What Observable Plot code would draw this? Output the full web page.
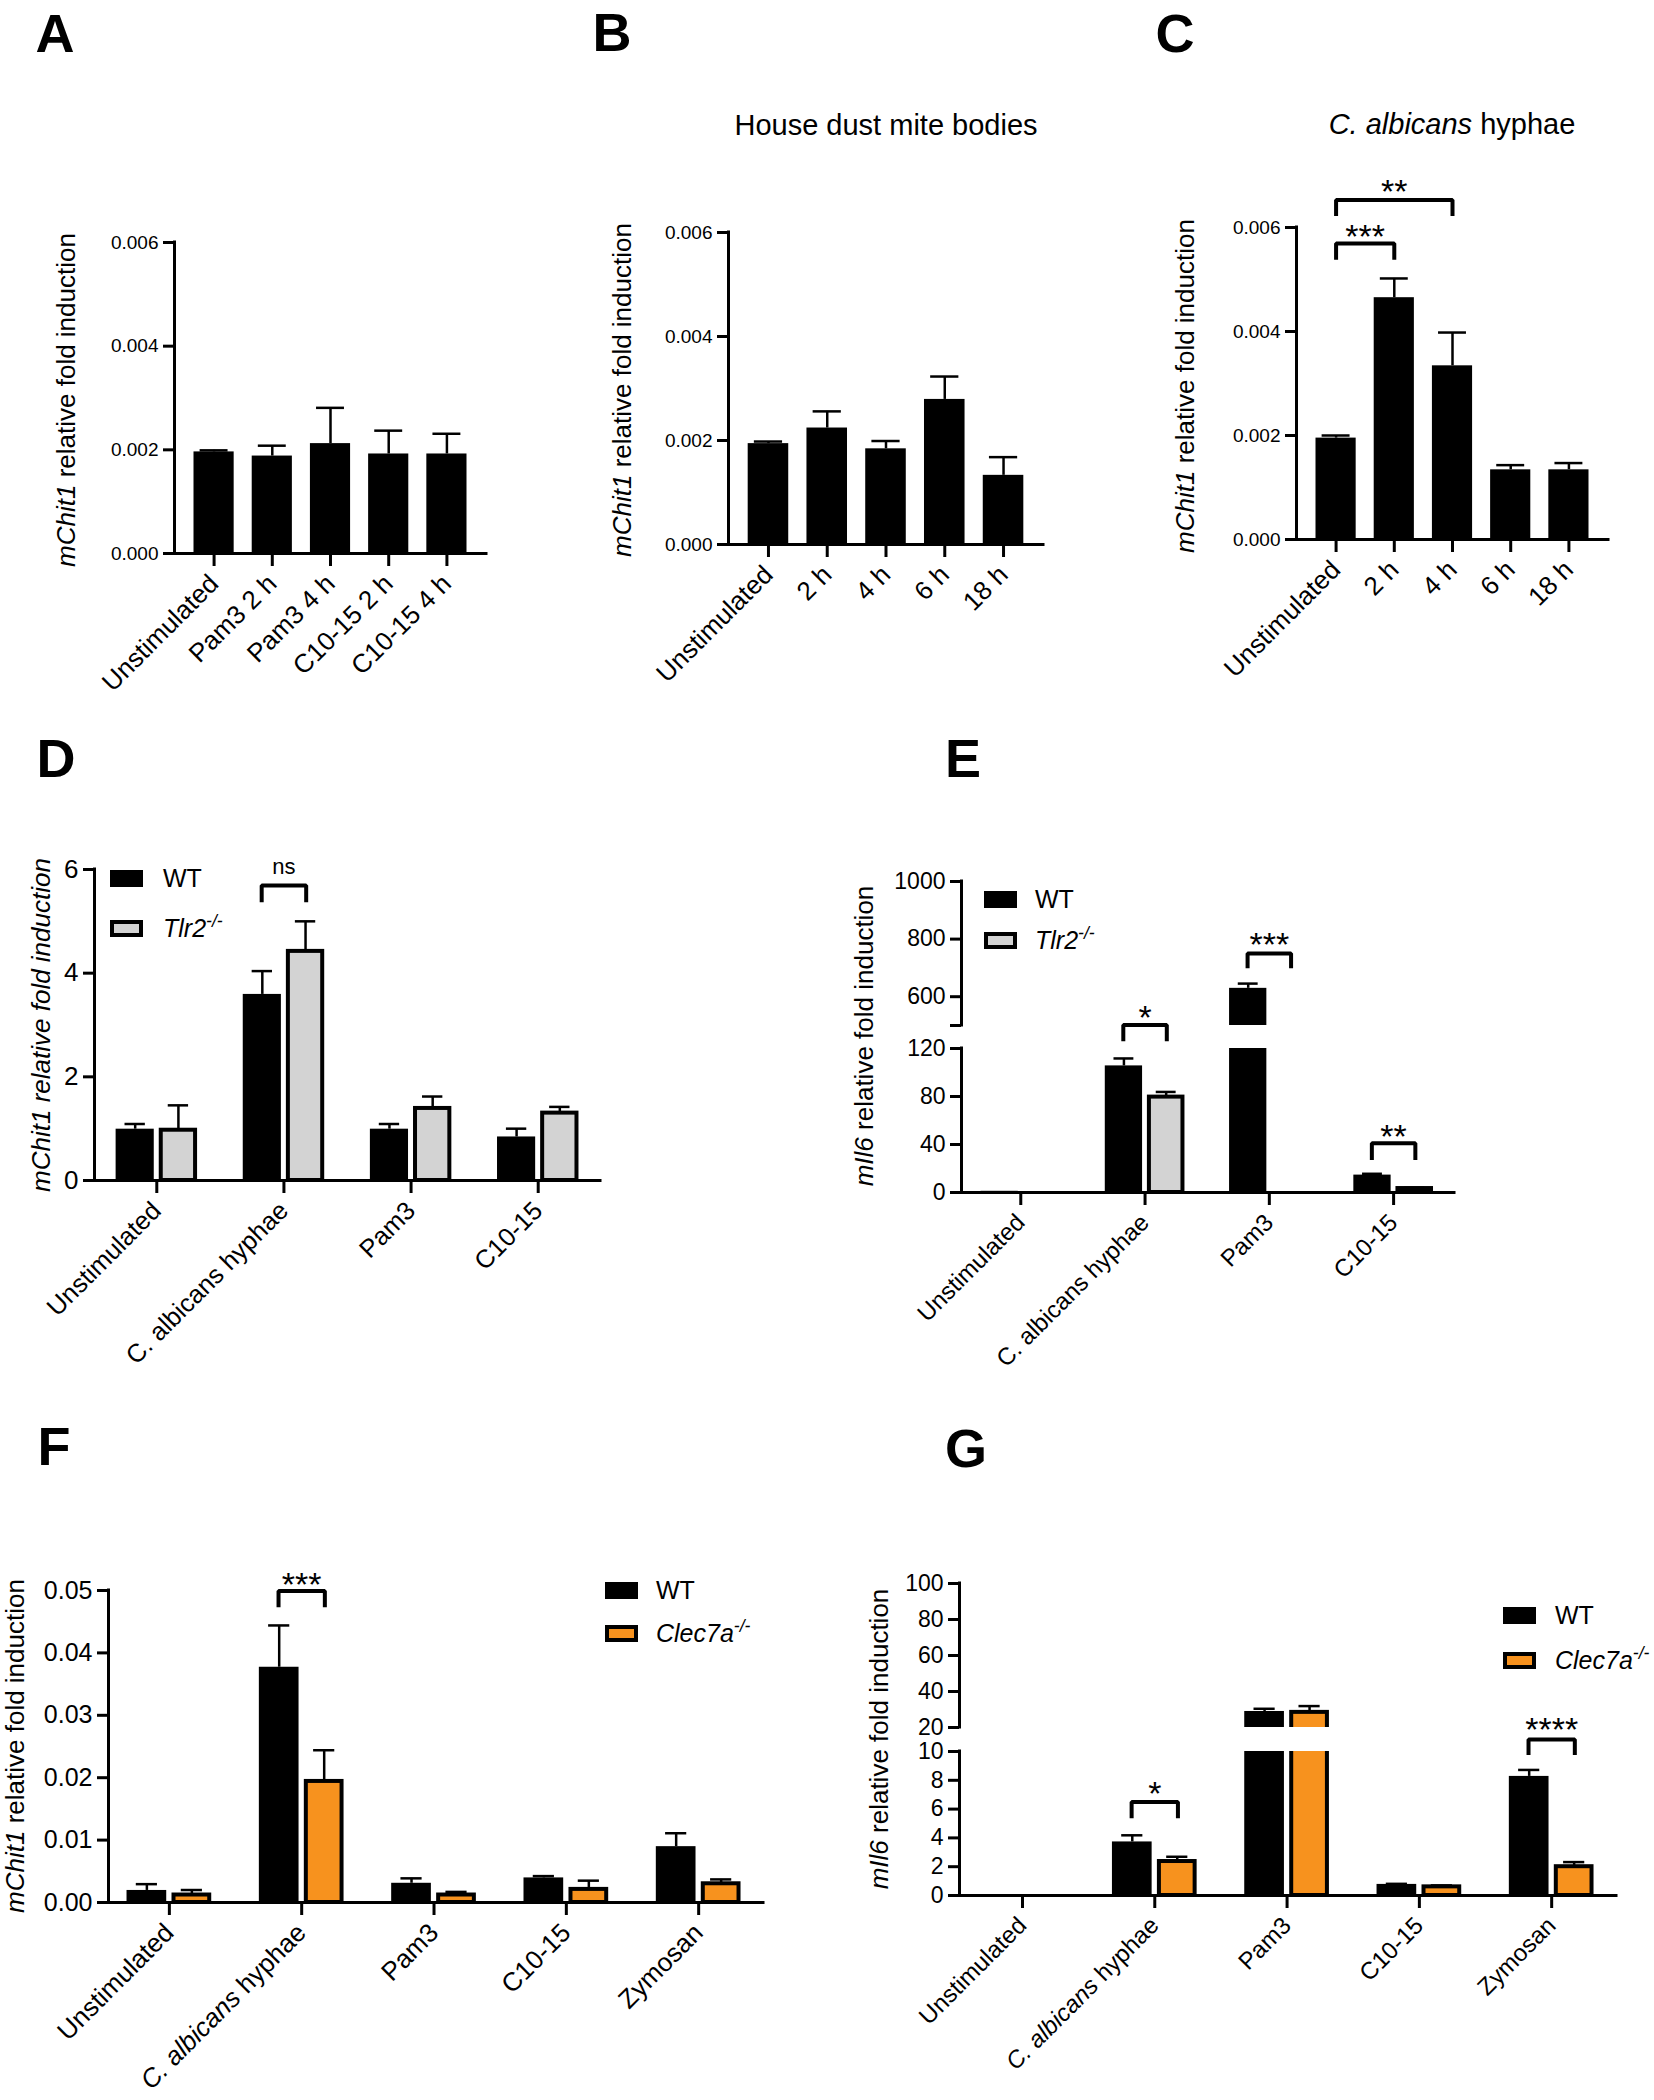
<!DOCTYPE html>
<html>
<head>
<meta charset="utf-8">
<script src="https://cdn.jsdelivr.net/npm/d3@7"></script>
<script src="https://cdn.jsdelivr.net/npm/@observablehq/plot@0.6"></script>
<style>
  html, body { margin: 0; padding: 0; background: #fff; }
  #fig { position: relative; width: 1654px; height: 2100px; overflow: hidden; background: #fff;
         font-family: "Liberation Sans", Arial, Helvetica, sans-serif; color: #000; }
  .t { position: absolute; white-space: nowrap; line-height: 1; transform: translate(-50%, -50%); }
  .rot { transform: translate(-50%, -50%) rotate(-90deg); }
  .letter { font-weight: bold; font-size: 54px; }
  .title { font-size: 29px; }
  .ylab { font-size: 26px; }
  .leg { position: absolute; white-space: nowrap; line-height: 1; transform: translateY(-50%); font-size: 25px; }
  .sw { position: absolute; box-sizing: border-box; }
  sup { font-size: 0.7em; vertical-align: 0.55em; line-height: 0; }
</style>
</head>
<body>
<div id="fig"></div>
<script>
// ---------------- DATA ----------------
// Panel A
const catsA = ["Unstimulated", "Pam3 2 h", "Pam3 4 h", "C10-15 2 h", "C10-15 4 h"];
const meanA = [0.00196, 0.00188, 0.00212, 0.00192, 0.00192];
const errA  = [0.00003, 0.00020, 0.00069, 0.00045, 0.00039];
// Panels B and C
const catsBC = ["Unstimulated", "2 h", "4 h", "6 h", "18 h"];
const meanB = [0.00194, 0.00224, 0.00184, 0.00279, 0.00133];
const errB  = [0.00004, 0.00032, 0.00015, 0.00044, 0.00035];
const meanC = [0.00195, 0.00465, 0.00334, 0.00134, 0.00134];
const errC  = [0.00005, 0.00037, 0.00064, 0.00009, 0.00013];
const sigC = [
  {from: 0, to: 1, y: 0.00569, leg: 0.00538, ty: 0.00599, label: "***"},
  {from: 0, to: 2, y: 0.00653, leg: 0.00622, ty: 0.00685, label: "**"}
];
// Panel D
const catsD = ["Unstimulated", "C. albicans hyphae", "Pam3", "C10-15"];
const wtD    = [0.99, 3.59, 0.99, 0.84];
const wtErrD = [0.10, 0.45, 0.10, 0.16];
const koD    = [0.97, 4.42, 1.39, 1.30];
const koErrD = [0.48, 0.58, 0.23, 0.12];
const sigD = [{group: 1, y: 5.69, leg: 5.37, ty: 6.05, label: "ns"}];
// Panel E
const catsE = ["Unstimulated", "C. albicans hyphae", "Pam3", "C10-15"];
const wtE    = [1.0, 105.5, 629, 14.5];
const wtErrE = [0, 6.2, 16.5, 1.1];
const koE    = [0, 79.5, 0, 3.3];
const koErrE = [0, 4.3, 0, 0.6];
const sigE = [
  {group: 1, y: 139.6, leg: 126, ty: 153, label: "*"},
  {group: 2, y: 750, leg: 699, ty: 809, label: "***"},
  {group: 3, y: 41, leg: 27, ty: 53.6, label: "**"}
];
// Panel F
const catsF = ["Unstimulated", "C. albicans hyphae", "Pam3", "C10-15", "Zymosan"];
const wtF    = [0.00193, 0.0377, 0.00308, 0.00394, 0.00895];
const wtErrF = [0.00101, 0.0067, 0.00079, 0.00029, 0.00215];
const koF    = [0.0012, 0.0194, 0.0012, 0.0021, 0.0030];
const koErrF = [0.0008, 0.0050, 0.0005, 0.0014, 0.0007];
const sigF = [{group: 1, y: 0.0499, leg: 0.0473, ty: 0.0523, label: "***"}];
// Panel G
const catsG = ["Unstimulated", "C. albicans hyphae", "Pam3", "C10-15", "Zymosan"];
const wtG    = [0.0, 3.72, 28.9, 0.77, 8.27];
const wtErrG = [0, 0.46, 1.5, 0.04, 0.45];
const koG    = [0.0, 2.36, 28.4, 0.60, 2.00];
const koErrG = [0, 0.33, 3.5, 0.10, 0.32];
const sigG = [
  {group: 1, y: 6.5, leg: 5.36, ty: 7.7, label: "*"},
  {group: 4, y: 10.84, leg: 9.75, ty: 12.1, label: "****"}
];

// ---------------- HELPERS ----------------
const FONT = '"Liberation Sans", Arial, Helvetica, sans-serif';
const ORANGE = "#f7921e";
const GREY = "#d3d3d3";
const fig = document.getElementById("fig");
const SVGNS = "http://www.w3.org/2000/svg";

function single(vals, errs) { return vals.map((v, i) => ({x: i, v, e: errs[i]})); }
function grouped(vals, errs, off) { return vals.map((v, i) => ({x: i + off, v, e: errs[i]})); }
function spanBr(list) { return list.map(b => ({...b, x1: b.from, x2: b.to})); }
function groupBr(list, half) { return list.map(b => ({...b, x1: b.group - half, x2: b.group + half})); }

function italicize(svg, needle, italicPart, rest) {
  svg.querySelectorAll("text").forEach(t => {
    if (t.textContent === needle) {
      t.textContent = "";
      const a = document.createElementNS(SVGNS, "tspan");
      a.setAttribute("font-style", "italic");
      a.textContent = italicPart;
      const b = document.createElementNS(SVGNS, "tspan");
      b.textContent = rest;
      t.appendChild(a); t.appendChild(b);
    }
  });
}

function panel(c) {
  const ml = 120, mr = 30, mt = 90, mb = c.cats ? 330 : 20;
  const W = c.x1 - c.x0 + ml + mr;
  const H = c.yBot - c.yTop + mt + mb;
  const ylo = c.yDomain[0];
  const clip = !!c.clip;
  const marks = [];
  for (const s of c.series) {
    const o = {x1: d => d.x - s.hw, x2: d => d.x + s.hw, y1: 0, y2: "v", fill: s.fill, clip};
    if (s.stroke) { o.stroke = s.stroke; o.strokeWidth = s.sw; }
    marks.push(Plot.rect(s.data.filter(d => d.v > 0), o));
  }
  for (const s of c.series) {
    const ed = s.data.filter(d => d.e > 0);
    marks.push(Plot.ruleX(ed, {x: "x", y1: "v", y2: d => d.v + d.e, strokeWidth: 2.5, clip}));
    marks.push(Plot.ruleY(ed, {y: d => d.v + d.e, x1: d => d.x - c.cap, x2: d => d.x + c.cap, strokeWidth: 2.5, clip}));
  }
  marks.push(Plot.axisY({ticks: c.yTicks, tickFormat: c.yFmt, tickSize: 11, tickPadding: 5,
    strokeWidth: 3, fontSize: c.yFont, label: null}));
  marks.push(Plot.ruleX([c.xDomain[0]], {strokeWidth: 3, strokeLinecap: "square"}));
  if (c.cats) {
    marks.push(Plot.ruleY([ylo], {strokeWidth: 3, strokeLinecap: "square"}));
    marks.push(Plot.axisX({ticks: c.cats.map((_, i) => i), tickFormat: i => c.cats[i], tickRotate: -45,
      tickSize: 13, tickPadding: 13, strokeWidth: 3, fontSize: c.xFont, label: null}));
  }
  if (c.brackets && c.brackets.length) {
    const pts = c.brackets.flatMap((b, k) => [
      {k, x: b.x1, y: b.leg}, {k, x: b.x1, y: b.y}, {k, x: b.x2, y: b.y}, {k, x: b.x2, y: b.leg}]);
    marks.push(Plot.line(pts, {x: "x", y: "y", z: "k", strokeWidth: 4, strokeLinejoin: "miter", strokeLinecap: "butt"}));
    const stars = c.brackets.filter(b => b.label.includes("*"));
    const other = c.brackets.filter(b => !b.label.includes("*"));
    marks.push(Plot.text(stars, {x: b => (b.x1 + b.x2) / 2, y: "ty", text: "label", fontSize: 34, dy: 9}));
    marks.push(Plot.text(other, {x: b => (b.x1 + b.x2) / 2, y: "ty", text: "label", fontSize: 22}));
  }
  const svg = Plot.plot({
    width: W, height: H, marginLeft: ml, marginRight: mr, marginTop: mt, marginBottom: mb,
    x: {type: "linear", domain: c.xDomain, axis: null},
    y: {type: "linear", domain: c.yDomain, axis: null},
    style: {fontFamily: FONT, color: "black", background: "transparent", overflow: "visible"},
    marks
  });
  if (c.italicHyphae) italicize(svg, "C. albicans hyphae", "C. albicans", " hyphae");
  svg.style.position = "absolute";
  svg.style.left = (c.x0 - ml) + "px";
  svg.style.top = (c.yTop - mt) + "px";
  fig.appendChild(svg);
}

function addText(html, cx, cy, cls) {
  const d = document.createElement("div");
  d.className = "t " + cls;
  d.innerHTML = html;
  d.style.left = cx + "px";
  d.style.top = cy + "px";
  fig.appendChild(d);
}

function addLegend(sx, tx, items) {
  for (const it of items) {
    const s = document.createElement("div");
    s.className = "sw";
    s.style.left = sx + "px";
    s.style.top = (it.cy - 8.5) + "px";
    s.style.width = "33px";
    s.style.height = "17px";
    s.style.background = it.fill;
    if (it.border) s.style.border = "4px solid #000";
    fig.appendChild(s);
    const t = document.createElement("div");
    t.className = "leg";
    t.style.left = tx + "px";
    t.style.top = it.cy + "px";
    t.innerHTML = it.html;
    fig.appendChild(t);
  }
}

// ---------------- PANELS ----------------
const fmt3 = d3.format(".3f");
const fmt2 = d3.format(".2f");
const plain = d => `${d}`;
const HW1 = 0.345, CAP1 = 0.24;
const OFF = 0.17, HWW = 0.15, HWK = 0.135, CAP2 = 0.08, BR = 0.175;

// A
panel({x0: 174, x1: 486, yTop: 242, yBot: 553, yDomain: [0, 0.006], yTicks: [0, 0.002, 0.004, 0.006],
  yFmt: fmt3, yFont: 19, xDomain: [-0.68, 4.68], cats: catsA, xFont: 26, cap: CAP1,
  series: [{data: single(meanA, errA), hw: HW1, fill: "black"}]});
// B
panel({x0: 728, x1: 1043, yTop: 232, yBot: 544, yDomain: [0, 0.006], yTicks: [0, 0.002, 0.004, 0.006],
  yFmt: fmt3, yFont: 19, xDomain: [-0.68, 4.68], cats: catsBC, xFont: 26, cap: CAP1,
  series: [{data: single(meanB, errB), hw: HW1, fill: "black"}]});
// C
panel({x0: 1296, x1: 1608, yTop: 227, yBot: 539, yDomain: [0, 0.006], yTicks: [0, 0.002, 0.004, 0.006],
  yFmt: fmt3, yFont: 19, xDomain: [-0.68, 4.68], cats: catsBC, xFont: 26, cap: CAP1,
  series: [{data: single(meanC, errC), hw: HW1, fill: "black"}], brackets: spanBr(sigC)});
// D
panel({x0: 94, x1: 600, yTop: 869, yBot: 1180, yDomain: [0, 6], yTicks: [0, 2, 4, 6],
  yFmt: plain, yFont: 26, xDomain: [-0.49, 3.49], cats: catsD, xFont: 25.5, cap: CAP2,
  series: [{data: grouped(wtD, wtErrD, -OFF), hw: HWW, fill: "black"},
           {data: grouped(koD, koErrD, OFF), hw: HWK, fill: GREY, stroke: "black", sw: 4}],
  brackets: groupBr(sigD, BR)});
// E (broken axis: top + bottom segments)
const eTopMin = 500;
panel({x0: 961, x1: 1454, yTop: 881, yBot: 1025, yDomain: [eTopMin, 1000], yTicks: [500, 600, 800, 1000],
  yFmt: d => d === eTopMin ? "" : `${d}`, yFont: 23, xDomain: [-0.477, 3.49], clip: true, cap: CAP2,
  series: [{data: grouped(wtE, wtErrE, -OFF), hw: HWW, fill: "black"},
           {data: grouped(koE, koErrE, OFF), hw: HWK, fill: GREY, stroke: "black", sw: 4}],
  brackets: groupBr(sigE.filter(b => b.y >= eTopMin), BR)});
panel({x0: 961, x1: 1454, yTop: 1048, yBot: 1192, yDomain: [0, 120], yTicks: [0, 40, 80, 120],
  yFmt: plain, yFont: 23, xDomain: [-0.477, 3.49], clip: true, cats: catsE, xFont: 24, cap: CAP2,
  series: [{data: grouped(wtE, wtErrE, -OFF), hw: HWW, fill: "black"},
           {data: grouped(koE, koErrE, OFF), hw: HWK, fill: GREY, stroke: "black", sw: 4}],
  brackets: groupBr(sigE.filter(b => b.y < eTopMin), BR)});
// F
panel({x0: 108, x1: 763, yTop: 1590, yBot: 1902, yDomain: [0, 0.05], yTicks: [0, 0.01, 0.02, 0.03, 0.04, 0.05],
  yFmt: fmt2, yFont: 25, xDomain: [-0.46, 4.49], cats: catsF, xFont: 26, cap: CAP2, italicHyphae: true,
  series: [{data: grouped(wtF, wtErrF, -OFF), hw: HWW, fill: "black"},
           {data: grouped(koF, koErrF, OFF), hw: HWK, fill: ORANGE, stroke: "black", sw: 4}],
  brackets: groupBr(sigF, BR)});
// G (broken axis)
const gTopMin = 20;
panel({x0: 959, x1: 1616, yTop: 1583, yBot: 1727, yDomain: [gTopMin, 100], yTicks: [20, 40, 60, 80, 100],
  yFmt: plain, yFont: 23, xDomain: [-0.476, 4.49], clip: true, cap: CAP2,
  series: [{data: grouped(wtG, wtErrG, -OFF), hw: HWW, fill: "black"},
           {data: grouped(koG, koErrG, OFF), hw: HWK, fill: ORANGE, stroke: "black", sw: 4}],
  brackets: groupBr(sigG.filter(b => b.y >= gTopMin), BR)});
panel({x0: 959, x1: 1616, yTop: 1751, yBot: 1895, yDomain: [0, 10], yTicks: [0, 2, 4, 6, 8, 10],
  yFmt: plain, yFont: 23, xDomain: [-0.476, 4.49], clip: true, cats: catsG, xFont: 24, cap: CAP2, italicHyphae: true,
  series: [{data: grouped(wtG, wtErrG, -OFF), hw: HWW, fill: "black"},
           {data: grouped(koG, koErrG, OFF), hw: HWK, fill: ORANGE, stroke: "black", sw: 4}],
  brackets: groupBr(sigG.filter(b => b.y < gTopMin), BR)});

// ---------------- TEXT ----------------
addText("A", 55, 33, "letter");
addText("B", 612, 32, "letter");
addText("C", 1175, 33, "letter");
addText("D", 56, 758, "letter");
addText("E", 963, 758, "letter");
addText("F", 54, 1446, "letter");
addText("G", 966, 1448, "letter");

addText("House dust mite bodies", 886, 125, "title");
addText("<i>C. albicans</i> hyphae", 1452, 124, "title");

const chitLab = "<i>mChit1</i> relative fold induction";
const il6Lab = "<i>mIl6</i> relative fold induction";
addText(chitLab, 66, 400, "ylab rot");
addText(chitLab, 622, 390, "ylab rot");
addText(chitLab, 1185, 386, "ylab rot");
addText("<i>mChit1 relative fold induction</i>", 41, 1025, "ylab rot");
addText(il6Lab, 864, 1036, "ylab rot");
addText(chitLab, 15, 1746, "ylab rot");
addText(il6Lab, 879, 1739, "ylab rot");

// Legends
addLegend(110, 163, [{cy: 878, fill: "#000", html: "WT"},
                     {cy: 928, fill: GREY, border: true, html: "<i>Tlr2<sup>-/-</sup></i>"}]);
addLegend(984, 1035, [{cy: 899, fill: "#000", html: "WT"},
                      {cy: 940, fill: GREY, border: true, html: "<i>Tlr2<sup>-/-</sup></i>"}]);
addLegend(605, 656, [{cy: 1590, fill: "#000", html: "WT"},
                     {cy: 1633, fill: ORANGE, border: true, html: "<i>Clec7a<sup>-/-</sup></i>"}]);
addLegend(1503, 1555, [{cy: 1615, fill: "#000", html: "WT"},
                       {cy: 1660, fill: ORANGE, border: true, html: "<i>Clec7a<sup>-/-</sup></i>"}]);
</script>
</body>
</html>
